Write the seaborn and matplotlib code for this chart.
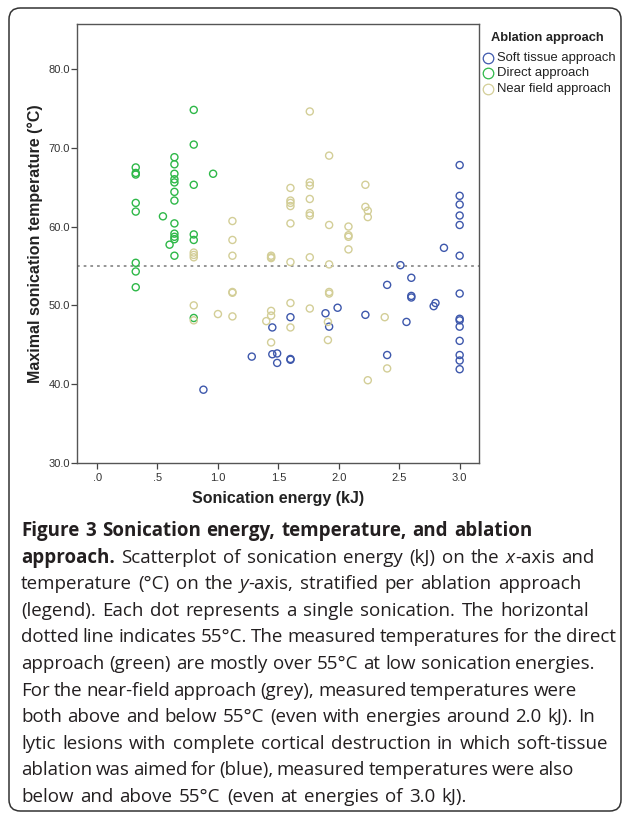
import matplotlib
matplotlib.use("Agg")
import matplotlib.pyplot as plt
import seaborn as sns
import pandas as pd
from matplotlib.lines import Line2D
from matplotlib.patches import FancyBboxPatch

# ---------------- data ----------------
soft_x = [0.88, 1.28, 1.45, 1.45, 1.49, 1.49, 1.60, 1.60, 1.60, 1.89, 1.92, 1.99,
          2.22, 2.40, 2.40, 2.51, 2.56, 2.60, 2.60, 2.60, 2.785, 2.80, 2.87,
          3.0, 3.0, 3.0, 3.0, 3.0, 3.0, 3.0, 3.0, 3.0, 3.0, 3.0, 3.0, 3.0, 3.0]
soft_y = [39.3, 43.5, 47.2, 43.8, 43.9, 42.7, 48.5, 43.2, 43.1, 49.0, 47.3, 49.7,
          48.8, 52.6, 43.7, 55.1, 47.9, 53.5, 51.2, 51.0, 49.9, 50.3, 57.3,
          67.8, 63.9, 62.8, 61.4, 60.2, 56.3, 51.5, 48.3, 48.1, 47.3, 45.5, 43.7, 43.0, 41.9]

direct_x = [0.32] * 8 + [0.545, 0.60] + [0.64] * 12 + [0.80] * 6 + [0.96]
direct_y = [67.5, 66.8, 66.6, 63.0, 61.9, 55.4, 54.3, 52.3,
            61.3, 57.7,
            68.8, 67.9, 66.7, 66.0, 65.6, 64.4, 63.3, 60.4, 59.1, 58.7, 58.4, 56.3,
            74.8, 70.4, 65.3, 59.0, 58.3, 48.4,
            66.7]

near_x = [0.80] * 5 + [1.00] + [1.12] * 6 + [1.40] + [1.44] * 6 + [1.60] * 8 + \
         [1.76] * 8 + [1.92] * 5 + [1.91] * 2 + [2.08] * 4 + [2.22] * 2 + [2.24] * 3 + [2.38, 2.40]
near_y = [56.7, 56.4, 56.1, 50.0, 48.1,
          48.9,
          60.7, 58.3, 56.3, 51.7, 51.6, 48.6,
          48.0,
          56.3, 56.1, 56.0, 49.3, 48.7, 45.3,
          64.9, 63.3, 63.0, 62.6, 60.4, 55.5, 50.3, 47.2,
          74.6, 65.6, 65.2, 63.5, 61.7, 61.4, 56.1, 49.6,
          69.0, 60.2, 55.2, 51.7, 51.5,
          47.9, 45.6,
          60.0, 58.9, 58.7, 57.1,
          65.3, 62.5,
          62.0, 61.2, 40.5,
          48.5, 42.0]

groups = ["Soft tissue approach", "Direct approach", "Near field approach"]
colors = ["#3E58AC", "#2EB848", "#D3CE97"]
x_ticks = [0.0, 0.5, 1.0, 1.5, 2.0, 2.5, 3.0]
x_ticklabels = [".0", ".5", "1.0", "1.5", "2.0", "2.5", "3.0"]
y_ticks = [30, 40, 50, 60, 70, 80]
y_ticklabels = ["30.0", "40.0", "50.0", "60.0", "70.0", "80.0"]
threshold = 55

df = pd.concat([
    pd.DataFrame({"energy": soft_x, "temp": soft_y, "approach": groups[0]}),
    pd.DataFrame({"energy": direct_x, "temp": direct_y, "approach": groups[1]}),
    pd.DataFrame({"energy": near_x, "temp": near_y, "approach": groups[2]}),
], ignore_index=True)

# ---------------- figure ----------------
sns.set_theme(style="white")
plt.rcParams["font.family"] = ["Liberation Sans", "DejaVu Sans"]

W, H = 627, 818
fig = plt.figure(figsize=(W / 100, H / 100), dpi=100)
fig.patch.set_facecolor("white")

def fx(px):
    return px / W

def fy(py):
    return 1 - py / H

L, R, T, B = 77, 479, 24, 463
ax = fig.add_axes([fx(L), fy(B), (R - L) / W, (B - T) / H])

pal = dict(zip(groups, colors))
sns.scatterplot(data=df, x="energy", y="temp", hue="approach", palette=pal,
                s=26, linewidth=1.0, ax=ax, legend=False, zorder=3)
coll = ax.collections[0]
fcs = coll.get_facecolors()
coll.set_edgecolors(fcs)
coll.set_facecolors("none")

ax.axhline(threshold, color="#8c8c8c", lw=1.3, ls=(0, (1.5, 2.2)), zorder=2)

ax.set_xlim(-0.166, 3.16)
ax.set_ylim(30, 85.7)
ax.set_xticks(x_ticks)
ax.set_xticklabels(x_ticklabels)
ax.set_yticks(y_ticks)
ax.set_yticklabels(y_ticklabels)
ax.tick_params(axis="both", direction="out", length=4.5, width=0.9, color="#444444",
               labelsize=8, labelcolor="#333333", pad=0.8)
ax.tick_params(axis="x", bottom=True, pad=3)
ax.tick_params(axis="y", left=True)
for sp in ax.spines.values():
    sp.set_color("#555555")
    sp.set_linewidth(1.0)

ax.set_xlabel("Sonication energy (kJ)", fontsize=11.5, fontweight="bold", color="#222222", labelpad=5.5)
ax.set_ylabel("Maximal sonication temperature (°C)", fontsize=11.5, fontweight="bold",
              color="#222222", labelpad=4)
ax.grid(False)

# ---------------- legend ----------------
fig.text(fx(491), fy(38), "Ablation approach", fontsize=9.3, fontweight="bold",
         color="#222222", ha="left", va="center")
for i, (g, c) in enumerate(zip(groups, colors)):
    yy = [57.5, 73, 89][i]
    fig.add_artist(Line2D([fx(487.5)], [fy(yy)], marker="o", markersize=7.6,
                          markerfacecolor="none", markeredgecolor=c, markeredgewidth=0.9,
                          linestyle="none", transform=fig.transFigure))
    fig.text(fx(497), fy(yy), g, fontsize=9.4, color="#222222", ha="left", va="center")

# ---------------- outer border ----------------
border = FancyBboxPatch((fx(9), fy(811)), fx(621) - fx(9), fy(8) - fy(811),
                        boxstyle="round,pad=0,rounding_size=0.018",
                        transform=fig.transFigure, fill=False, edgecolor="#333333",
                        linewidth=1.1, mutation_aspect=W / H)
fig.add_artist(border)

# ---------------- caption ----------------
cap_font = ["Open Sans", "DejaVu Sans"]
cap_size = 13.5
cap_color = "#231f20"
renderer = fig.canvas.get_renderer()

def run_width(txt, weight, style):
    t1 = fig.text(0, 0, txt + "|", fontsize=cap_size, family=cap_font, weight=weight, style=style)
    t2 = fig.text(0, 0, "|", fontsize=cap_size, family=cap_font, weight=weight, style=style)
    w = t1.get_window_extent(renderer).width - t2.get_window_extent(renderer).width
    t1.remove()
    t2.remove()
    return w

space_nat = run_width("a a", "normal", "normal") - run_width("aa", "normal", "normal")

def split_words(segs):
    words, cur = [], []
    for txt, weight, style in segs:
        parts = txt.split(" ")
        for k, p in enumerate(parts):
            if k > 0:
                if cur:
                    words.append(cur)
                cur = []
            if p:
                cur.append((p, weight, style))
    if cur:
        words.append(cur)
    return words

def draw_line(y, segs, x_end, x0=21):
    words = split_words(segs)
    widths = [sum(run_width(*r) for r in w) for w in words]
    gaps = max(len(words) - 1, 1)
    space = (x_end - x0 - sum(widths)) / gaps
    space = min(max(space, space_nat - 1.5), space_nat + 1.5)
    x = x0
    for w, wd in zip(words, widths):
        xx = x
        for txt, weight, style in w:
            fig.text(fx(xx), fy(y), txt, fontsize=cap_size, family=cap_font, weight=weight,
                     style=style, color=cap_color, ha="left", va="center")
            xx += run_width(txt, weight, style)
        x += wd + space

N, Bd, I = "normal", "bold", "italic"
lines = [
    [("Figure 3 Sonication energy, temperature, and ablation", Bd, N)],
    [("approach. ", Bd, N), ("Scatterplot of sonication energy (kJ) on the ", N, N),
     ("x", N, I), ("-axis and", N, N)],
    [("temperature (°C) on the ", N, N), ("y", N, I), ("-axis, stratified per ablation approach", N, N)],
    [("(legend). Each dot represents a single sonication. The horizontal", N, N)],
    [("dotted line indicates 55°C. The measured temperatures for the direct", N, N)],
    [("approach (green) are mostly over 55°C at low sonication energies.", N, N)],
    [("For the near-field approach (grey), measured temperatures were", N, N)],
    [("both above and below 55°C (even with energies around 2.0 kJ). In", N, N)],
    [("lytic lesions with complete cortical destruction in which soft-tissue", N, N)],
    [("ablation was aimed for (blue), measured temperatures were also", N, N)],
    [("below and above 55°C (even at energies of 3.0 kJ).", N, N)],
]
line_ends = [532, 608, 602, 612, 616, 595, 577, 595, 608, 566, 483]
for i, segs in enumerate(lines):
    draw_line(531 + i * 26.6, segs, line_ends[i])

fig.savefig("out.png", dpi=100)
